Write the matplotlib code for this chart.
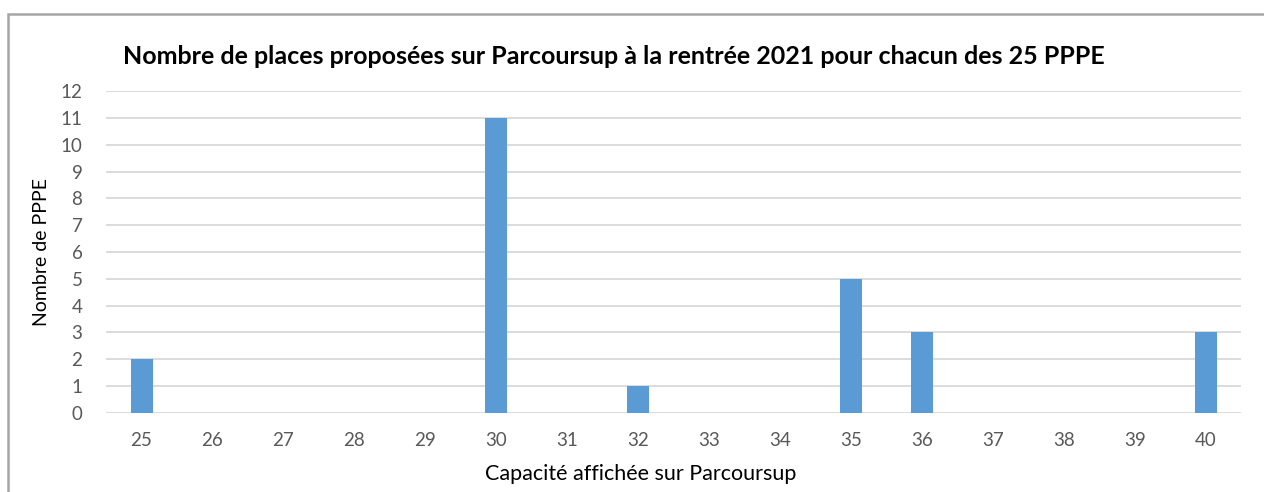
import numpy as np
import matplotlib.pyplot as plt
from matplotlib.patches import Rectangle

capacites = [str(c) for c in range(25, 41)]
nb_pppe = [2, 0, 0, 0, 0, 11, 0, 1, 0, 0, 5, 3, 0, 0, 0, 3]
y_ticks = list(range(0, 13))

plt.rcParams['font.family'] = ['Lato', 'DejaVu Sans']

fig = plt.figure(figsize=(12.64, 4.92), dpi=100)
ax = fig.add_axes([0.0839, 0.1606, 0.8979, 0.6544])

x = np.arange(len(capacites))
ax.bar(x, nb_pppe, width=0.31, color='#5B9BD5', zorder=3)

ax.set_xlim(-0.5, len(capacites) - 0.5)
ax.set_ylim(0, 12)
ax.set_xticks(x)
ax.set_xticklabels(capacites)
ax.set_yticks(y_ticks)
ax.tick_params(axis='both', length=0, colors='#595959', labelsize=13.5)
ax.tick_params(axis='x', pad=14)
ax.tick_params(axis='y', pad=17)
ax.grid(axis='y', color='#D9D9D9', linewidth=1.3, zorder=0)
for s in ax.spines.values():
    s.set_visible(False)

ax.set_xlabel('Capacité affichée sur Parcoursup', fontsize=15.5, color='black')
ax.xaxis.set_label_coords((641 - 106) / 1135, -0.16)
ax.set_ylabel('Nombre de PPPE', fontsize=14, color='black')
ax.yaxis.set_label_coords(-0.049, 0.5)

fig.text(0.486, 0.886, 'Nombre de places proposées sur Parcoursup à la rentrée 2021 pour chacun des 25 PPPE',
         ha='center', va='center', fontsize=18, fontweight='bold')

# cadre gris du graphique
fig.patches.append(Rectangle((8 / 1264, -0.1), 1.2, 1 - 14 / 492 + 0.1, transform=fig.transFigure,
                             fill=False, edgecolor='#A6A6A6', linewidth=1.8))

fig.savefig('out.png', dpi=100)
